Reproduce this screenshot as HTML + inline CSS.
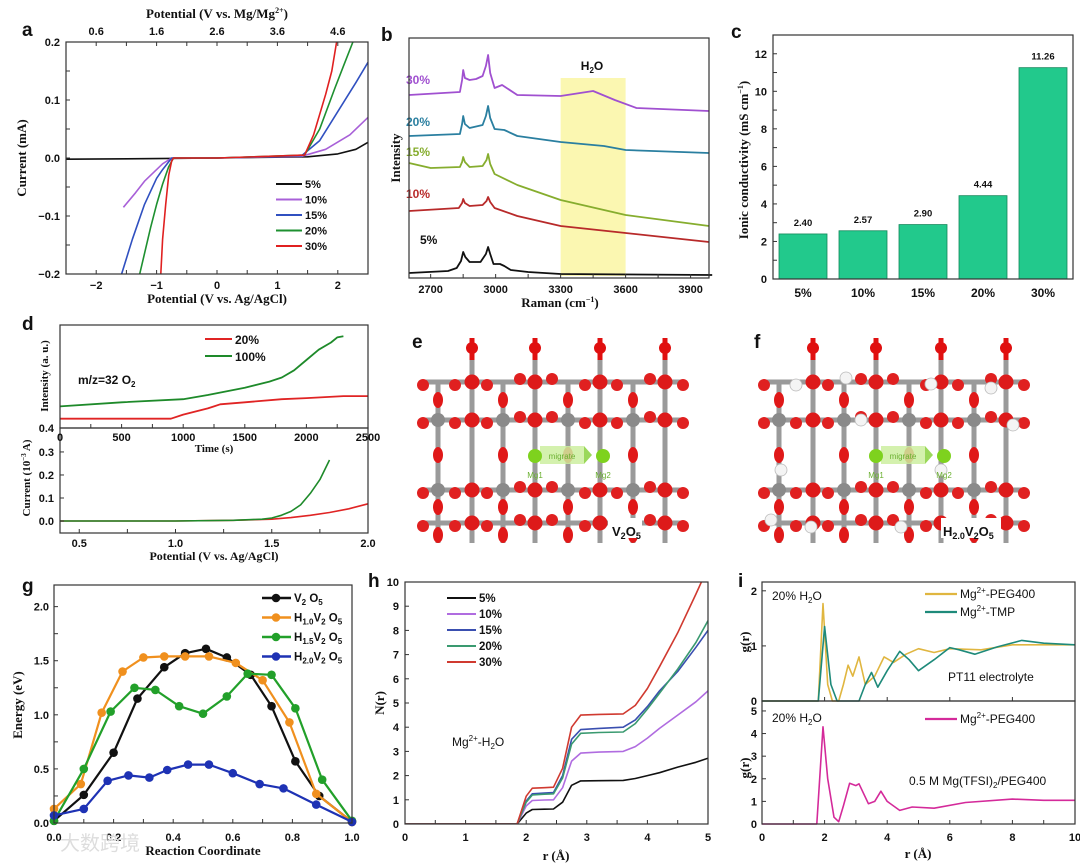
<!DOCTYPE html>
<html><head><meta charset="utf-8"><style>
html,body{margin:0;padding:0;background:#fff;}
svg{display:block;}
text{font-family:"Liberation Sans",Arial,sans-serif;}
</style></head><body>
<svg id="fig" width="1080" height="864" viewBox="0 0 1080 864"></svg>
<script>
// ===== Panel a data =====
const aCurrX5=[-2.5,-1,0,1.5,2.0,2.3,2.5];
const aCurrY5=[-0.002,-0.001,0,0.002,0.007,0.015,0.027];
const aCurrX10=[-1.55,-1.35,-1.2,-1.0,-0.9,-0.75,0,1.4,1.8,2.2,2.5];
const aCurrY10=[-0.085,-0.06,-0.04,-0.02,-0.01,0,0,0.003,0.015,0.04,0.07];
const aCurrX15=[-1.58,-1.4,-1.2,-1.0,-0.9,-0.75,0,1.4,1.7,2.0,2.3,2.5];
const aCurrY15=[-0.2,-0.14,-0.08,-0.035,-0.02,0,0,0.004,0.03,0.08,0.13,0.165];
const aCurrX20=[-1.28,-1.1,-1.0,-0.9,-0.8,-0.72,0,1.45,1.7,1.95,2.1,2.25];
const aCurrY20=[-0.2,-0.12,-0.08,-0.045,-0.015,0,0,0.005,0.05,0.12,0.16,0.2];
const aCurrX30=[-0.93,-0.9,-0.85,-0.8,-0.75,-0.72,0,1.45,1.6,1.8,1.9,1.98];
const aCurrY30=[-0.2,-0.14,-0.08,-0.03,-0.005,0,0,0.005,0.04,0.11,0.15,0.2];
// ===== Panel b data (Raman, intensity offset) =====
const bRaman5=[2600,2780,2820,2840,2850,2860,2880,2930,2955,2965,2975,2990,3020,3040,3070,3150,3300,4000];
const bInt5=[5,7,10,17,26,21,16,16,24,31,24,14,14,12,8,6,4,3];
const bRaman10=[2600,2830,2845,2850,2858,2880,2940,2958,2965,2975,2995,3100,3300,3600,3985];
const bInt10=[67,70,75,79,75,72,73,77,81,76,70,62,52,45,36];
const bRaman15=[2600,2700,2835,2845,2850,2858,2880,2940,2958,2965,2975,2995,3100,3300,3600,3985];
const bInt15=[115,110,111,116,121,116,111,112,118,124,114,104,93,78,63,52];
const bRaman20=[2600,2835,2845,2850,2858,2880,2940,2955,2965,2975,2995,3040,3100,3300,3500,3600,3985];
const bInt20=[142,144,154,162,154,150,153,162,172,160,149,148,142,136,132,128,125];
const bRaman30=[2600,2835,2845,2850,2858,2880,2910,2940,2955,2965,2975,2995,3030,3100,3300,3450,3550,3650,3985];
const bInt30=[183,186,198,208,200,198,199,202,212,223,205,190,193,183,182,187,178,170,167];
// ===== Panel c data =====
const cCats=["5%","10%","15%","20%","30%"];
const cVals=[2.40,2.57,2.90,4.44,11.26];
const cLabels=["2.40","2.57","2.90","4.44","11.26"];
// ===== Panel d data =====
const dTime20=[0,900,1000,1100,1200,1250,1300,1500,1800,2000,2300,2500];
const dInt20=[0.09,0.09,0.13,0.16,0.19,0.21,0.23,0.25,0.28,0.29,0.31,0.31];
const dTime100=[0,500,1000,1200,1500,1700,1800,1900,2000,2100,2200,2250,2300];
const dInt100=[0.21,0.25,0.28,0.32,0.39,0.45,0.49,0.56,0.66,0.76,0.83,0.88,0.89];
const dPot20=[0.4,1.0,1.3,1.5,1.6,1.7,1.8,1.9,2.0];
const dCur20=[0,0,0.003,0.008,0.015,0.025,0.037,0.053,0.075];
const dPot100=[0.4,1.0,1.3,1.45,1.5,1.55,1.6,1.65,1.7,1.75,1.8];
const dCur100=[0,0,0.003,0.008,0.013,0.025,0.042,0.07,0.12,0.18,0.265];
// ===== Panel g data =====
const gX0=[0,0.1,0.2,0.28,0.37,0.44,0.51,0.58,0.66,0.73,0.81,0.89,1.0];
const gY0=[0.02,0.26,0.65,1.15,1.44,1.57,1.61,1.53,1.37,1.08,0.57,0.25,0.01];
const gX1=[0,0.09,0.16,0.23,0.3,0.37,0.44,0.52,0.61,0.7,0.79,0.88,1.0];
const gY1=[0.13,0.36,1.02,1.40,1.53,1.54,1.54,1.54,1.48,1.32,0.93,0.27,0.01];
const gX15=[0,0.1,0.19,0.27,0.34,0.42,0.5,0.58,0.65,0.73,0.81,0.9,1.0];
const gY15=[0.02,0.5,1.03,1.25,1.23,1.08,1.01,1.17,1.38,1.37,1.06,0.40,0.02];
const gX2=[0,0.1,0.18,0.25,0.32,0.38,0.45,0.52,0.6,0.69,0.77,0.88,1.0];
const gY2=[0.07,0.13,0.39,0.44,0.42,0.49,0.54,0.54,0.46,0.36,0.32,0.17,0.01];
// ===== Panel h data =====
const hR=[0,1.85,2.0,2.1,2.3,2.45,2.6,2.75,2.9,3.2,3.6,3.8,4.0,4.2,4.5,4.8,5.0];
const hN5=[0,0,0.45,0.6,0.61,0.62,0.9,1.6,1.78,1.79,1.8,1.88,2.0,2.12,2.35,2.55,2.72];
const hN10=[0,0,0.75,0.97,0.99,1.0,1.5,2.6,2.93,2.97,3.0,3.2,3.55,3.95,4.5,5.05,5.5];
const hN15=[0,0,0.95,1.25,1.28,1.3,2.0,3.5,3.9,3.95,4.0,4.3,4.85,5.5,6.3,7.3,8.0];
const hN20=[0,0,0.9,1.2,1.23,1.25,1.9,3.3,3.75,3.78,3.8,4.15,4.75,5.4,6.4,7.5,8.4];
const hN30=[0,0,1.15,1.48,1.5,1.52,2.3,4.0,4.5,4.53,4.55,4.9,5.6,6.5,7.9,9.5,10.6];
// ===== Panel i data =====
const iR1=[0,1.8,1.95,2.1,2.25,2.45,2.6,2.75,2.9,3.1,3.3,3.6,3.9,4.2,4.6,5.0,5.5,6.0,7.0,8.0,9.0,10.0];
const iG1=[0,0,1.77,0.3,0,0,0.3,0.65,0.45,0.8,0.3,0.45,0.8,0.7,0.85,0.95,0.88,0.95,0.93,1.02,1.02,1.02];
const iR2=[0,1.8,2.0,2.2,2.4,3.1,3.3,3.5,3.7,4.0,4.4,4.7,5.0,5.5,6.0,6.3,6.8,7.5,8.3,9.0,10.0];
const iG2=[0,0,1.35,0.3,0,0,0.3,0.52,0.25,0.55,0.9,0.75,0.55,0.75,0.97,0.93,0.85,0.98,1.1,1.05,1.02];
const iR3=[0,1.75,1.95,2.1,2.3,2.45,2.6,2.8,3.0,3.1,3.4,3.6,3.8,4.0,4.4,4.8,5.5,6.5,8.0,9.0,10.0];
const iG3=[0,0,4.3,2.0,0.3,0.1,0.8,1.8,1.7,1.78,0.9,1.0,1.45,1.0,0.6,0.75,0.7,0.95,1.1,1.05,1.05];

const svg=document.getElementById('fig');
const NSU=svg.namespaceURI;
function mk(tag,attrs){const e=document.createElementNS(NSU,tag);for(const k in attrs)e.setAttribute(k,attrs[k]);svg.appendChild(e);return e;}
function sc(L,R,T,B,xd,yd){return {L,R,T,B,x:v=>L+(v-xd[0])/(xd[1]-xd[0])*(R-L),y:v=>B-(v-yd[0])/(yd[1]-yd[0])*(B-T)};}
function T(x,y,html,size,opts){opts=opts||{};const e=mk('text',{x:x,y:y,'font-size':size,'font-weight':opts.w||'bold','text-anchor':opts.a||'middle',fill:opts.c||'#111'});if(opts.serif)e.setAttribute('style','font-family:"Liberation Serif",serif');if(opts.rot)e.setAttribute('transform','rotate(-90 '+x+' '+y+')');e.innerHTML=html;return e;}
function frame(p){const e=mk('rect',{x:p.L,y:p.T,width:p.R-p.L,height:p.B-p.T,fill:'none',stroke:'#333','stroke-width':1.2});return e;}
function xt(p,vals,labs,ly,top){vals.forEach((v,i)=>{const X=p.x(v);const t=mk('line',{x1:X,x2:X,y1:p.B,y2:p.B-4,stroke:'#333','stroke-width':1});if(top){const t2=mk('line',{x1:X,x2:X,y1:p.T,y2:p.T+4,stroke:'#333','stroke-width':1});}if(labs){const l=T(X,ly,labs[i],11);}});}
function yt(p,vals,labs,lx){vals.forEach((v,i)=>{const Y=p.y(v);const t=mk('line',{x1:p.L,x2:p.L+4,y1:Y,y2:Y,stroke:'#333','stroke-width':1});if(labs){const l=T(lx,Y+4,labs[i],11,{a:'end'});}});}
function ln(p,xs,ys,c,w){const pts=xs.map((v,i)=>p.x(v).toFixed(1)+','+p.y(ys[i]).toFixed(1)).join(' ');return mk('polyline',{points:pts,fill:'none',stroke:c,'stroke-width':w||1.6,'stroke-linejoin':'round'});}
function letter(x,y,s){const e=T(x,y,s,19,{a:'start'});}

// ================= Panel a =================
letter(22,36,'a');
const pa=sc(66,368,42,274,[-2.5,2.5],[-0.2,0.2]);
let clipA=mk('clipPath',{id:'ca'});clipA.innerHTML='<rect x="66" y="42" width="302" height="232"/>';
const aCols=['#111','#a860d8','#3050c0','#1e9030','#e02020'];
const aSer=[[aCurrX5,aCurrY5],[aCurrX10,aCurrY10],[aCurrX15,aCurrY15],[aCurrX20,aCurrY20],[aCurrX30,aCurrY30]];
const aNames=['5%','10%','15%','20%','30%'];
aSer.forEach((s,i)=>{const e=ln(pa,s[0],s[1],aCols[i],1.6);e.setAttribute('clip-path','url(#ca)');


const ly=184+i*15.5;const l=mk('line',{x1:276,x2:302,y1:ly,y2:ly,stroke:aCols[i],'stroke-width':2});


const t=T(305,ly+4,aNames[i],11,{a:'start'});

});
frame(pa);
xt(pa,[-2,-1,0,1,2],['−2','−1','0','1','2'],289,true);
xt(pa,[-1.5,-0.5,0.5,1.5],null,0,true);
yt(pa,[-0.2,-0.1,0,0.1,0.2],['−0.2','−0.1','0.0','0.1','0.2'],60);
yt(pa,[-0.15,-0.05,0.05,0.15],null);
['0.6','1.6','2.6','3.6','4.6'].forEach((s,i)=>{const e=T(pa.x(-2+i),35,s,11);});
let e=T(217,18,'Potential (V vs. Mg/Mg<tspan font-size="8" dy="-5">2+</tspan><tspan dy="5">)</tspan>',13,{serif:1});
e=T(217,303,'Potential (V vs. Ag/AgCl)',13,{serif:1});
e=T(26,158,'Current (mA)',13,{serif:1,rot:1});

// ================= Panel b =================
letter(381,41,'b');
const pb=sc(409,709,38,278,[2600,3985],[0,240]);
e=mk('rect',{x:pb.x(3300),y:78,width:pb.x(3600)-pb.x(3300),height:198,fill:'#fbf6a8',opacity:0.9});
e=T(592,70,'H<tspan font-size="8" dy="3">2</tspan><tspan dy="-3">O</tspan>',12);
const bCols=['#111','#b82a2a','#86ad2e','#2a7fa0','#a050d0'];
const bSer=[[bRaman5,bInt5],[bRaman10,bInt10],[bRaman15,bInt15],[bRaman20,bInt20],[bRaman30,bInt30]];
const bLab=[[432,244,'5%'],[418,198,'10%'],[418,156,'15%'],[418,126,'20%'],[418,84,'30%']];
bSer.forEach((s,i)=>{const e=ln(pb,s[0],s[1],bCols[i],1.8);


const t=T(bLab[i][0]-12,bLab[i][1],bLab[i][2],12,{a:'start',c:i==0?'#111':bCols[i]});

});
frame(pb);
xt(pb,[2700,3000,3300,3600,3900],['2700','3000','3300','3600','3900'],293);
xt(pb,[2850,3150,3450,3750],null);
e=T(560,307,'Raman (cm<tspan font-size="8" dy="-5">−1</tspan><tspan dy="5">)</tspan>',13,{serif:1});
e=T(400,158,'Intensity',13,{serif:1,rot:1});

// ================= Panel c =================
letter(731,38,'c');
const pc=sc(773,1073,35,279,[0,5],[0,13]);
cVals.forEach((v,i)=>{const cx=pc.x(i+0.5);const bw=48;
const r=mk('rect',{x:cx-bw/2,y:pc.y(v),width:bw,height:pc.y(0)-pc.y(v),fill:'#22c98c',stroke:'#12885a','stroke-width':0.8});


const t=T(cx,pc.y(v)-8,cLabels[i],9.5);


const c=T(cx,297,cCats[i],12);

});
frame(pc);
yt(pc,[0,2,4,6,8,10,12],['0','2','4','6','8','10','12'],767);
yt(pc,[1,3,5,7,9,11],null);
e=T(748,160,'Ionic conductivity (mS cm<tspan font-size="8" dy="-5">−1</tspan><tspan dy="5">)</tspan>',13,{serif:1,rot:1});

// ================= Panel d =================
letter(22,330,'d');
const pd1=sc(60,368,325,428,[0,2500],[0,1]);
const pd2=sc(60,368,428,533,[0.4,2.0],[-0.052,0.404]);
e=ln(pd1,dTime20,dInt20,'#e02424',1.8);
e=ln(pd1,dTime100,dInt100,'#1e8a2a',1.8);
e=ln(pd2,dPot20,dCur20,'#e02424',1.6);
e=ln(pd2,dPot100,dCur100,'#1e8a2a',1.6);
frame(pd1);
frame(pd2);
xt(pd1,[0,500,1000,1500,2000,2500],['0','500','1000','1500','2000','2500'],441);
xt(pd1,[250,750,1250,1750,2250],null);
xt(pd2,[0.5,1.0,1.5,2.0],['0.5','1.0','1.5','2.0'],547);
xt(pd2,[0.75,1.25,1.75],null);
yt(pd2,[0,0.1,0.2,0.3],['0.0','0.1','0.2','0.3'],54);
e=T(54,432,'0.4',11,{a:'end'});
e=mk('line',{x1:205,x2:232,y1:339,y2:339,stroke:'#e02424','stroke-width':2});
e=T(235,344,'20%',12,{a:'start'});
e=mk('line',{x1:205,x2:232,y1:356,y2:356,stroke:'#1e8a2a','stroke-width':2});
e=T(235,361,'100%',12,{a:'start'});
e=T(78,384,'m/z=32 O<tspan font-size="8" dy="3">2</tspan>',12,{a:'start'});
e=T(214,452,'Time (s)',11,{serif:1});
e=T(214,560,'Potential (V vs. Ag/AgCl)',12,{serif:1});
e=T(48,376,'Intensity (a. u.)',11,{serif:1,rot:1});
e=T(30,478,'Current (10<tspan font-size="7" dy="-4">−3</tspan><tspan dy="4"> A)</tspan>',11,{serif:1,rot:1});

// ================= Panels e, f (structures) =================
function lattice(ox,withH,lab,nameP){
  const g=mk('g',{transform:'translate('+ox+',0)'});
  
  
  let h='';
  const rowsY=[382,420,490,523];
  const Vx=[438,503,568,633];const Tx=[472,535,600,665];
  rowsY.forEach(y=>{h+='<line x1="423" x2="683" y1="'+y+'" y2="'+y+'" stroke="#9a9a9a" stroke-width="5"/>';});
  Vx.forEach(x=>{h+='<line x1="'+x+'" x2="'+x+'" y1="382" y2="543" stroke="#9a9a9a" stroke-width="5"/>';});
  Tx.forEach(x=>{h+='<line x1="'+x+'" x2="'+x+'" y1="342" y2="543" stroke="#9a9a9a" stroke-width="5"/>';});
  Vx.forEach(x=>{[420,490].forEach(y=>{h+='<circle cx="'+x+'" cy="'+y+'" r="7" fill="#8a8a8a"/>';});});
  Tx.forEach(x=>{h+='<circle cx="'+x+'" cy="348" r="6" fill="#e01010"/><line x1="'+x+'" x2="'+x+'" y1="338" y2="360" stroke="#e01010" stroke-width="5"/>';
    [382,420,490,523].forEach(y=>{h+='<circle cx="'+x+'" cy="'+y+'" r="7.5" fill="#dd1a1a"/>';});});
  [423,455,487,520,552,585,617,650,683].forEach(x=>{[382,420,490,523].forEach(y=>{h+='<circle cx="'+x+'" cy="'+(y+ (x%2?3:-3))+'" r="6" fill="#e02020"/>';});});
  Vx.forEach(x=>{[400,455,507,535].forEach(y=>{h+='<ellipse cx="'+x+'" cy="'+y+'" rx="5" ry="8" fill="#e01818"/>';});});
  if(withH){[[455,385],[505,378],[590,384],[650,388],[430,520],[470,527],[560,527],[620,527],[440,470],[520,420],[600,470],[672,425]].forEach(p=>{h+='<circle cx="'+p[0]+'" cy="'+p[1]+'" r="6" fill="#f4f4f4" stroke="#bbb" stroke-width="0.8"/>';});}
  h+='<rect x="540" y="446" width="44" height="18" fill="#cdeea0" opacity="0.85"/><polygon points="584,446 592,455 584,464" fill="#9ad85a"/>';
  h+='<text x="562" y="459" font-size="8" fill="#6ab030" text-anchor="middle">migrate</text>';
  h+='<circle cx="535" cy="456" r="7" fill="#7ed21e"/><circle cx="603" cy="456" r="7" fill="#7ed21e"/>';
  h+='<text x="535" y="478" font-size="8" fill="#6ab030" text-anchor="middle">Mg1</text><text x="603" y="478" font-size="8" fill="#6ab030" text-anchor="middle">Mg2</text>';
  h+='<rect x="'+(withH?600:608)+'" y="518" width="'+(withH?60:34)+'" height="20" fill="#fff"/>';
  h+='<text x="'+(withH?602:612)+'" y="536" font-size="13" font-weight="bold" fill="#111">'+lab+'</text>';
  g.innerHTML=h;
}
letter(412,348,'e');
lattice(0,false,'V<tspan font-size="9" dy="3">2</tspan><tspan dy="-3">O</tspan><tspan font-size="9" dy="3">5</tspan>','v2o5');
letter(754,348,'f');
lattice(341,true,'H<tspan font-size="9" dy="3">2.0</tspan><tspan dy="-3">V</tspan><tspan font-size="9" dy="3">2</tspan><tspan dy="-3">O</tspan><tspan font-size="9" dy="3">5</tspan>','h2v2o5');

// ================= Panel g =================
letter(22,592,'g');
const pg=sc(54,352,585,823,[0,1],[0,2.2]);
const gCols=['#111','#f0901e','#22a02a','#1e32b4'];
const gSer=[[gX0,gY0],[gX1,gY1],[gX15,gY15],[gX2,gY2]];
gSer.forEach((s,i)=>{const e=ln(pg,s[0],s[1],gCols[i],2.2);


s[0].forEach((v,j)=>{const c=mk('circle',{cx:pg.x(v),cy:pg.y(s[1][j]),r:4.3,fill:gCols[i]});

});});
const gLeg=['V<tspan font-size="8" dy="3">2</tspan><tspan dy="-3"> O</tspan><tspan font-size="8" dy="3">5</tspan>','H<tspan font-size="8" dy="3">1.0</tspan><tspan dy="-3">V</tspan><tspan font-size="8" dy="3">2</tspan><tspan dy="-3"> O</tspan><tspan font-size="8" dy="3">5</tspan>','H<tspan font-size="8" dy="3">1.5</tspan><tspan dy="-3">V</tspan><tspan font-size="8" dy="3">2</tspan><tspan dy="-3"> O</tspan><tspan font-size="8" dy="3">5</tspan>','H<tspan font-size="8" dy="3">2.0</tspan><tspan dy="-3">V</tspan><tspan font-size="8" dy="3">2</tspan><tspan dy="-3"> O</tspan><tspan font-size="8" dy="3">5</tspan>'];
gLeg.forEach((s,i)=>{const y=598+i*19.5;
const l=mk('line',{x1:262,x2:291,y1:y,y2:y,stroke:gCols[i],'stroke-width':2.4});


const c=mk('circle',{cx:276,cy:y,r:4.3,fill:gCols[i]});


const t=T(294,y+4,s,11.5,{a:'start'});

});
frame(pg);
xt(pg,[0,0.2,0.4,0.6,0.8,1.0],['0.0','0.2','0.4','0.6','0.8','1.0'],841);
xt(pg,[0.1,0.3,0.5,0.7,0.9],null);
yt(pg,[0,0.5,1.0,1.5,2.0],['0.0','0.5','1.0','1.5','2.0'],49);
yt(pg,[0.25,0.75,1.25,1.75],null);
e=T(203,855,'Reaction Coordinate',13,{serif:1});
e=T(22,705,'Energy (eV)',13,{serif:1,rot:1});
e=T(100,850,'大数跨境',20,{w:'normal',c:'#ddd'});e.setAttribute('style','font-family:"Liberation Sans","Noto Sans CJK SC",sans-serif');

// ================= Panel h =================
letter(368,587,'h');
const ph=sc(405,708,582,824,[0,5],[0,10]);
let clipH=mk('clipPath',{id:'ch'});clipH.innerHTML='<rect x="405" y="582" width="303" height="242"/>';
const hCols=['#111','#b06ce0','#3a4fb0','#3a9a70','#d03a30'];
const hSer=[hN5,hN10,hN15,hN20,hN30];
const hNames=['5%','10%','15%','20%','30%'];
hSer.forEach((s,i)=>{const e=ln(ph,hR,s,hCols[i],1.6);e.setAttribute('clip-path','url(#ch)');


const y=598+i*16;
const l=mk('line',{x1:447,x2:476,y1:y,y2:y,stroke:hCols[i],'stroke-width':2});


const t=T(479,y+4,hNames[i],11.5,{a:'start'});

});
frame(ph);
xt(ph,[0,1,2,3,4,5],['0','1','2','3','4','5'],841);
xt(ph,[0.5,1.5,2.5,3.5,4.5],null);
yt(ph,[0,1,2,3,4,5,6,7,8,9,10],['0','1','2','3','4','5','6','7','8','9','10'],399);
e=T(452,746,'Mg<tspan font-size="8" dy="-5">2+</tspan><tspan dy="5">-H</tspan><tspan font-size="8" dy="3">2</tspan><tspan dy="-3">O</tspan>',12,{a:'start',w:'normal'});
e=T(556,860,'r (Å)',13,{serif:1});
e=T(384,703,'N(r)',13,{serif:1,rot:1});

// ================= Panel i =================
letter(738,587,'i');
const pi1=sc(762,1075,582,701,[0,10],[0,2.16]);
const pi2=sc(762,1075,701,824,[0,10],[0,5.44]);
e=ln(pi1,iR1,iG1,'#e0b640',1.6);
e=ln(pi1,iR2,iG2,'#1e8a7a',1.6);
e=ln(pi2,iR3,iG3,'#d42a9a',1.6);
frame(pi1);
frame(pi2);
xt(pi1,[0,2,4,6,8,10],null);
xt(pi2,[0,2,4,6,8,10],['0','2','4','6','8','10'],841);
xt(pi2,[1,3,5,7,9],null);
yt(pi1,[0,1,2],['0','1','2'],757);
yt(pi2,[0,1,2,3,4,5],['0','1','2','3','4','5'],757);
e=T(772,600,'20% H<tspan font-size="8" dy="3">2</tspan><tspan dy="-3">O</tspan>',12,{a:'start',w:'normal'});
e=T(772,722,'20% H<tspan font-size="8" dy="3">2</tspan><tspan dy="-3">O</tspan>',12,{a:'start',w:'normal'});
[[594,'#e0b640','Mg<tspan font-size="8" dy="-5">2+</tspan><tspan dy="5">-PEG400</tspan>'],[612,'#1e8a7a','Mg<tspan font-size="8" dy="-5">2+</tspan><tspan dy="5">-TMP</tspan>'],[719,'#d42a9a','Mg<tspan font-size="8" dy="-5">2+</tspan><tspan dy="5">-PEG400</tspan>']].forEach(a=>{
const l=mk('line',{x1:925,x2:957,y1:a[0],y2:a[0],stroke:a[1],'stroke-width':2.2});


const t=T(960,a[0]+4,a[2],12,{a:'start',w:'normal'});

});
e=T(948,681,'PT11 electrolyte',12,{a:'start',w:'normal'});
e=T(909,785,'0.5 M Mg(TFSI)<tspan font-size="8" dy="3">2</tspan><tspan dy="-3">/PEG400</tspan>',12,{a:'start',w:'normal'});
e=T(918,858,'r (Å)',13,{serif:1});
e=T(749,642,'g(r)',13,{serif:1,rot:1});
e=T(749,768,'g(r)',13,{serif:1,rot:1});
</script>
</body></html>
